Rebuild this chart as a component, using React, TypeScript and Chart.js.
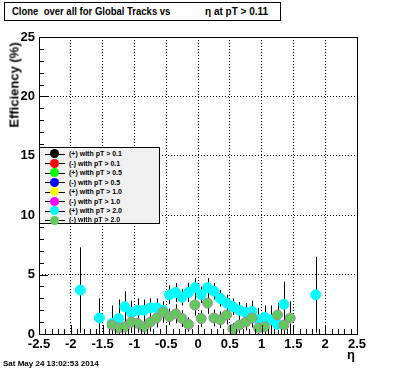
import React, { useEffect, useRef } from "react";
import { Chart, registerables } from "chart.js";
Chart.register(...registerables);

// (+) with pT > 2.0  (cyan)
const etaPlus = [-1.85, -1.55, -1.35, -1.25, -1.15, -1.05, -0.95, -0.85, -0.75, -0.65, -0.55, -0.45, -0.35, -0.25, -0.15, -0.05, 0.05, 0.15, 0.25, 0.35, 0.45, 0.55, 0.65, 0.75, 0.85, 0.95, 1.05, 1.15, 1.25, 1.35, 1.85];
const effPlus = [3.7, 1.35, 0.9, 1.3, 2.3, 1.8, 2.0, 2.0, 2.2, 2.2, 2.0, 3.3, 3.5, 3.1, 3.5, 3.9, 3.3, 3.9, 3.6, 3.0, 2.6, 2.3, 2.0, 1.8, 1.9, 1.2, 1.4, 1.2, 0.8, 2.5, 3.3];
const errPlus = [3.6, 1.65, 1.5, 1.6, 1.3, 1.0, 1.0, 0.9, 0.8, 0.8, 0.7, 0.8, 0.8, 0.7, 0.8, 0.8, 0.7, 0.8, 0.7, 0.7, 0.7, 0.7, 0.7, 0.8, 0.9, 1.0, 1.0, 1.2, 1.3, 1.9, 3.2];

// (-) with pT > 2.0  (light green)
const etaMinus = [-1.35, -1.25, -1.15, -1.05, -0.95, -0.85, -0.75, -0.65, -0.55, -0.45, -0.35, -0.25, -0.15, -0.05, 0.05, 0.15, 0.25, 0.35, 0.45, 0.55, 0.65, 0.75, 0.85, 0.95, 1.05, 1.25, 1.35, 1.45];
const effMinus = [0.75, 0.5, 0.6, 1.0, 0.9, 0.6, 1.0, 1.35, 1.85, 1.45, 1.7, 1.3, 0.8, 2.45, 1.3, 2.6, 1.35, 1.2, 1.6, 0.4, 0.75, 1.0, 1.35, 0.5, 0.6, 1.6, 0.75, 1.35];
const errMinus = [0.9, 0.8, 0.8, 0.9, 0.8, 0.7, 0.8, 0.8, 0.9, 0.7, 0.8, 0.7, 0.6, 0.9, 0.7, 0.9, 0.7, 0.7, 0.8, 0.5, 0.7, 0.7, 0.8, 0.6, 0.7, 1.0, 0.9, 1.4];

const legendLabels = [
  "(+) with pT > 0.1",
  "(-) with pT > 0.1",
  "(+) with pT > 0.5",
  "(-) with pT > 0.5",
  "(+) with pT > 1.0",
  "(-) with pT > 1.0",
  "(+) with pT > 2.0",
  "(-) with pT > 2.0",
];
const legendColors = ["#000000", "#ff0000", "#00ff00", "#0000ff", "#ffff00", "#ff00ff", "#00ffff", "#62c95a"];

const xMin = -2.5;
const xMax = 2.5;
const yMin = 0;
const yMax = 25;

const FONT = "'Liberation Sans', Arial, Helvetica, sans-serif";

const errorBarPlugin = {
  id: "errorBars",
  beforeDatasetsDraw(chart: any) {
    const { ctx, chartArea, scales } = chart;
    ctx.save();
    ctx.beginPath();
    ctx.rect(chartArea.left, chartArea.top, chartArea.right - chartArea.left, chartArea.bottom - chartArea.top);
    ctx.clip();
    ctx.strokeStyle = "#000";
    ctx.lineWidth = 1;
    chart.data.datasets.forEach((ds: any) => {
      const errs: number[] = ds.errors || [];
      ds.data.forEach((p: any, i: number) => {
        const e = errs[i] || 0;
        const x = Math.round(scales.x.getPixelForValue(p.x)) + 0.5;
        const y1 = scales.y.getPixelForValue(p.y + e);
        const y2 = scales.y.getPixelForValue(Math.max(0, p.y - e));
        ctx.beginPath();
        ctx.moveTo(x, y1);
        ctx.lineTo(x, y2);
        ctx.stroke();
      });
    });
    ctx.restore();
  },
};

const framePlugin = {
  id: "frame",
  afterDraw(chart: any) {
    const { ctx, chartArea, scales } = chart;
    const { left, right, top, bottom } = chartArea;
    ctx.save();
    ctx.strokeStyle = "#000";
    ctx.lineWidth = 1;
    ctx.beginPath();
    for (let k = 0; k <= 50; k++) {
      const v = xMin + k * 0.1;
      const x = Math.round(scales.x.getPixelForValue(v)) + 0.5;
      const len = k % 5 === 0 ? 9 : 5;
      ctx.moveTo(x, bottom);
      ctx.lineTo(x, bottom - len);
    }
    for (let k = 0; k <= 25; k++) {
      const y = Math.round(scales.y.getPixelForValue(k)) + 0.5;
      const len = k % 5 === 0 ? 9 : 5;
      ctx.moveTo(left, y);
      ctx.lineTo(left + len, y);
    }
    ctx.stroke();
    ctx.strokeRect(Math.round(left) + 0.5, Math.round(top) + 0.5, Math.round(right - left), Math.round(bottom - top));
    ctx.restore();
  },
};

function App() {
  const ref = useRef<HTMLCanvasElement | null>(null);
  useEffect(() => {
    if (!ref.current) return;
    const chart = new Chart(ref.current, {
      type: "scatter",
      data: {
        datasets: [
          {
            label: legendLabels[7],
            data: etaMinus.map((x, i) => ({ x, y: effMinus[i] })),
            errors: errMinus,
            backgroundColor: legendColors[7],
            borderColor: "#9a8f9e",
            borderWidth: 1,
            pointRadius: 5,
          } as any,
          {
            label: legendLabels[6],
            data: etaPlus.map((x, i) => ({ x, y: effPlus[i] })),
            errors: errPlus,
            backgroundColor: legendColors[6],
            borderColor: legendColors[6],
            borderWidth: 1,
            pointRadius: 5,
          } as any,
        ],
      },
      options: {
        animation: false,
        responsive: false,
        maintainAspectRatio: false,
        layout: { padding: { left: 0, top: 37, right: 39, bottom: 0 } },
        plugins: { legend: { display: false }, tooltip: { enabled: false }, title: { display: false } },
        scales: {
          x: {
            type: "linear",
            min: xMin,
            max: xMax,
            afterFit: (s: any) => {
              s.height = 38;
            },
            ticks: {
              stepSize: 0.5,
              padding: 3,
              color: "#000",
              font: { family: FONT, size: 13, weight: "bold" },
              callback: (v: any) => String(Math.round(Number(v) * 10) / 10),
            },
            grid: { color: "#000", lineWidth: 1, drawTicks: false },
            border: { display: false, dash: [1, 2] },
          },
          y: {
            type: "linear",
            min: yMin,
            max: yMax,
            afterFit: (s: any) => {
              s.width = 39;
            },
            ticks: {
              stepSize: 5,
              padding: 4,
              color: "#000",
              font: { family: FONT, size: 13, weight: "bold" },
            },
            grid: { color: "#000", lineWidth: 1, drawTicks: false },
            border: { display: false, dash: [1, 2] },
          },
        },
      } as any,
      plugins: [errorBarPlugin, framePlugin],
    });
    return () => chart.destroy();
  }, []);

  return (
    <div style={{ position: "fixed", left: 0, top: 0, width: 396, height: 372, background: "#fff", overflow: "hidden", fontFamily: FONT }}>
      <canvas ref={ref} width={396} height={372} style={{ position: "absolute", left: 0, top: 0, width: 396, height: 372 }} />
      <div
        style={{
          position: "absolute",
          left: 4,
          top: 2,
          width: 277,
          height: 19,
          border: "1px solid #000",
          background: "#fff",
          boxSizing: "border-box",
          fontSize: 10,
          fontWeight: "bold",
          lineHeight: "17px",
          whiteSpace: "pre",
        }}
      >
        <span style={{ position: "absolute", left: 7, transform: "scaleX(0.95)", transformOrigin: "left center" }}>
          Clone  over all for Global Tracks vs
        </span>
        <span style={{ position: "absolute", left: 200 }}>η at pT &gt; 0.11</span>
      </div>
      <div
        style={{
          position: "absolute",
          left: 39,
          top: 147,
          width: 121,
          height: 77,
          border: "1px solid #000",
          background: "#f0f0f0",
          boxSizing: "border-box",
        }}
      >
        {legendLabels.map((lab, i) => (
          <div key={lab} style={{ position: "absolute", left: 0, top: 1.2 + i * 9.47, height: 9.47, width: 119 }}>
            <div style={{ position: "absolute", left: 5, top: 4.5, width: 20, height: 1, background: "#000" }} />
            <div
              style={{
                position: "absolute",
                left: 9.5,
                top: 0.3,
                width: 9,
                height: 9,
                borderRadius: "50%",
                background: legendColors[i],
              }}
            />
            <div
              style={{
                position: "absolute",
                left: 29,
                top: 0,
                fontSize: 7,
                fontWeight: "bold",
                lineHeight: "9.5px",
                whiteSpace: "pre",
              }}
            >
              {lab}
            </div>
          </div>
        ))}
      </div>
      <div
        style={{
          position: "absolute",
          left: 14,
          top: 85,
          transform: "translate(-50%, -50%) rotate(-90deg)",
          fontSize: 13,
          fontWeight: "bold",
          whiteSpace: "pre",
        }}
      >
        Efficiency (%)
      </div>
      <div style={{ position: "absolute", left: 347, top: 347, fontSize: 13, fontWeight: "bold" }}>η</div>
      <div style={{ position: "absolute", left: 3, top: 359, fontSize: 8, fontWeight: "bold", whiteSpace: "pre" }}>
        Sat May 24 13:02:53 2014
      </div>
    </div>
  );
}

export default App;
